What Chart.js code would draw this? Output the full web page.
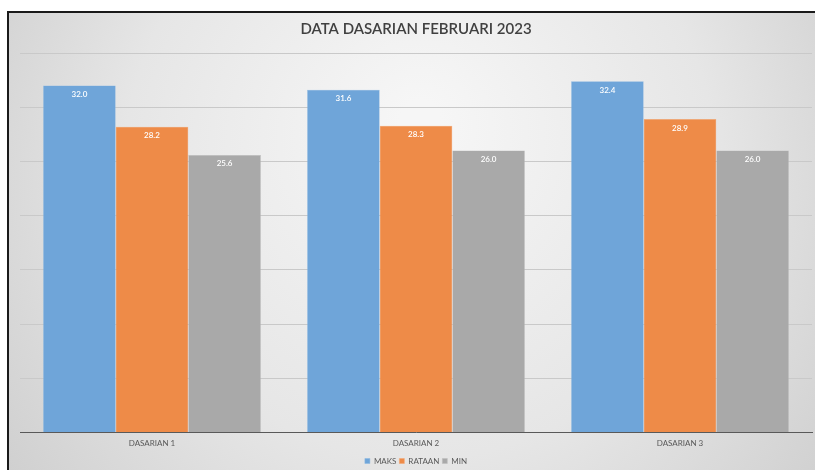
<!DOCTYPE html>
<html><head><meta charset="utf-8">
<script src="https://cdn.jsdelivr.net/npm/chart.js@4/dist/chart.umd.min.js"></script>
<style>html,body{margin:0;padding:0;background:#fff;}#wrap{width:815px;height:470px;position:relative;}</style>
</head><body><div id="wrap"><canvas id="c" width="815" height="470"></canvas></div>
<script>
const categories = ["DASARIAN 1", "DASARIAN 2", "DASARIAN 3"];
const maks = [32.0, 31.6, 32.4];
const rataan = [28.2, 28.3, 28.9];
const minv = [25.6, 26.0, 26.0];
const seriesNames = ["MAKS", "RATAAN", "MIN"];
const titleText = "DATA DASARIAN FEBRUARI 2023";

const bgPlugin = {
  id: 'bg',
  beforeDraw(chart) {
    const ctx = chart.ctx;
    ctx.save();
    ctx.fillStyle = '#ffffff';
    ctx.fillRect(0, 0, 815, 470);
    const g = ctx.createRadialGradient(420, 120, 20, 420, 200, 520);
    g.addColorStop(0, '#f6f6f6');
    g.addColorStop(0.55, '#e6e6e6');
    g.addColorStop(1, '#cdcdcd');
    ctx.fillStyle = g;
    ctx.fillRect(8, 12, 807, 458);
    ctx.strokeStyle = '#1a1a1a';
    ctx.lineWidth = 2;
    ctx.beginPath();
    ctx.moveTo(8, 470); ctx.lineTo(8, 12); ctx.lineTo(815, 12);
    ctx.stroke();
    ctx.restore();
  }
};
const labelPlugin = {
  id: 'vals',
  afterDatasetsDraw(chart) {
    const ctx = chart.ctx;
    ctx.save();
    ctx.fillStyle = '#ffffff';
    ctx.font = '600 8px Lato';
    ctx.textAlign = 'center';
    ctx.textBaseline = 'middle';
    chart.data.datasets.forEach((ds, i) => {
      chart.getDatasetMeta(i).data.forEach((bar, j) => {
        ctx.fillText(ds.data[j].toFixed(1), bar.x, bar.y + 9);
      });
    });
    ctx.restore();
  }
};

new Chart(document.getElementById('c'), {
  type: 'bar',
  data: {
    labels: categories,
    datasets: [
      { label: seriesNames[0], data: maks, backgroundColor: '#6fa5d9', borderColor: '#8ab8e2', borderWidth: 0.5 },
      { label: seriesNames[1], data: rataan, backgroundColor: '#ee8b48', borderColor: '#f5a670', borderWidth: 0.5 },
      { label: seriesNames[2], data: minv, backgroundColor: '#a9a9a9', borderColor: '#bdbdbd', borderWidth: 0.5 }
    ]
  },
  options: {
    responsive: false,
    animation: false,
    devicePixelRatio: 1,
    layout: { padding: { left: 20, right: 3, top: 15, bottom: -5 } },
    datasets: { bar: { categoryPercentage: 0.825, barPercentage: 1.0 } },
    plugins: {
      title: { display: true, text: titleText, color: '#404040', font: { family: 'Lato', size: 15, weight: '600' }, padding: { top: 5, bottom: 15 } },
      legend: { position: 'bottom', labels: { boxWidth: 5, boxHeight: 5, padding: 3, color: '#595959', font: { family: 'Lato', size: 8 } } },
      tooltip: { enabled: false }
    },
    scales: {
      x: {
        grid: { display: false, drawTicks: false },
        border: { display: true, color: '#595959', width: 1 },
        ticks: { color: '#595959', font: { family: 'Lato', size: 8 }, padding: 6 }
      },
      y: {
        min: 0, max: 35,
        ticks: { stepSize: 5, display: false },
        grid: { color: '#c9c9c9', drawTicks: false },
        border: { display: false }
      }
    }
  },
  plugins: [bgPlugin, labelPlugin]
});
</script></body></html>
